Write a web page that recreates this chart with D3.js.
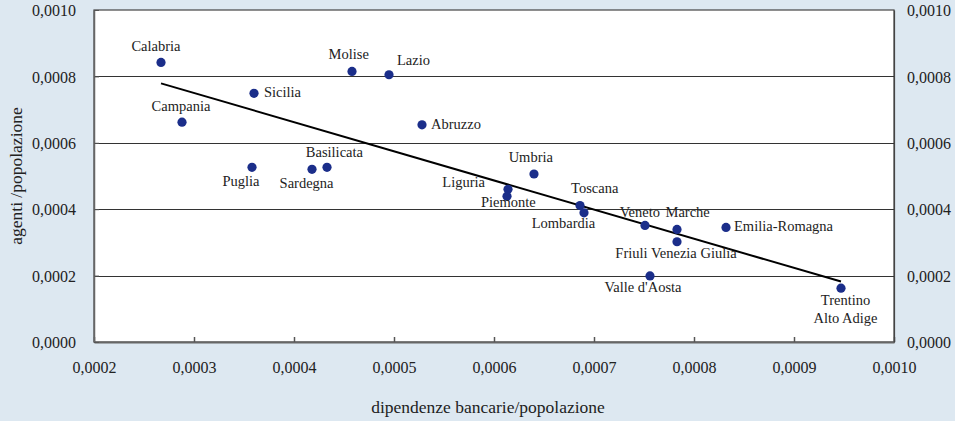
<!DOCTYPE html>
<html>
<head>
<meta charset="utf-8">
<script src="https://cdn.jsdelivr.net/npm/d3@7"></script>
<style>
  html, body { margin: 0; padding: 0; background: #dde8f1; }
  svg { display: block; }
  svg text { font-family: "Liberation Serif", "Times New Roman", Tinos, "DejaVu Serif", serif !important; fill: #222; }
</style>
</head>
<body>
<svg id="chart" width="955" height="421"></svg>
<script>
// ---- data ----
const regions = ["Calabria", "Campania", "Sicilia", "Puglia", "Sardegna", "Basilicata", "Molise", "Lazio",
  "Abruzzo", "Umbria", "Liguria", "Piemonte", "Toscana", "Lombardia", "Veneto", "Marche",
  "Friuli Venezia Giulia", "Emilia-Romagna", "Valle d'Aosta", "Trentino\nAlto Adige"];
const dipendenze = [0.000267, 0.000288, 0.000360, 0.000358, 0.000418, 0.000433, 0.000458, 0.000495,
  0.000528, 0.000640, 0.000614, 0.000613, 0.000686, 0.000690, 0.000751, 0.000783,
  0.000783, 0.000832, 0.000756, 0.000947];
const agenti = [0.000842, 0.000662, 0.000749, 0.000526, 0.000520, 0.000526, 0.000815, 0.000805,
  0.000654, 0.000506, 0.000460, 0.000439, 0.000411, 0.000389, 0.000351, 0.000339,
  0.000302, 0.000345, 0.000199, 0.000162];
const trendX = [0.000267, 0.000947];
const trendY = [0.000779, 0.000182];
const xTicks = [0.0002, 0.0003, 0.0004, 0.0005, 0.0006, 0.0007, 0.0008, 0.0009, 0.0010];
const yTicks = [0.0000, 0.0002, 0.0004, 0.0006, 0.0008, 0.0010];
const xTitle = "dipendenze bancarie/popolazione";
const yTitle = "agenti /popolazione";

// ---- label layout (offsets from point, px) ----
const labelLayout = {
  "Calabria": [-5, -11.6, "middle"],
  "Campania": [-1, -11.6, "middle"],
  "Sicilia": [10, 4, "start"],
  "Puglia": [-11, 18.3, "middle"],
  "Sardegna": [-5.4, 18.4, "middle"],
  "Basilicata": [7.4, -10.6, "middle"],
  "Molise": [-3.3, -12.6, "middle"],
  "Lazio": [8, -9.4, "start"],
  "Abruzzo": [9, 3.7, "start"],
  "Umbria": [-3.2, -12.3, "middle"],
  "Liguria": [-23, -2.3, "end"],
  "Piemonte": [1.4, 10.4, "middle"],
  "Toscana": [14.7, -13, "middle"],
  "Lombardia": [-20.5, 15.6, "middle"],
  "Veneto": [15, -8, "end"],
  "Marche": [-11.5, -12, "start"],
  "Friuli Venezia Giulia": [-1, 16.6, "middle"],
  "Emilia-Romagna": [8, 3.7, "start"],
  "Valle d'Aosta": [-7, 15.7, "middle"],
  "Trentino\nAlto Adige": [4.5, 16.7, "middle"]
};

const FONT = "'Liberation Serif', 'Times New Roman', Tinos, 'DejaVu Serif', serif";
const W = 955, H = 421;
const margin = { top: 10, right: 61, bottom: 79, left: 94 };
const svg = d3.select("#chart");

svg.append("rect").attr("x", 0).attr("y", 0).attr("width", W).attr("height", H).attr("fill", "#dde8f1");

const x = d3.scaleLinear().domain([0.0002, 0.0010]).range([margin.left, W - margin.right]);
const y = d3.scaleLinear().domain([0, 0.0010]).range([H - margin.bottom, margin.top]);

const loc = d3.formatLocale({ decimal: ",", thousands: ".", grouping: [3], currency: ["€", ""] });
const fmt = loc.format(".4f");

// plot area
svg.append("rect")
  .attr("x", x.range()[0]).attr("y", y.range()[1])
  .attr("width", x.range()[1] - x.range()[0])
  .attr("height", y.range()[0] - y.range()[1])
  .attr("fill", "#ffffff").attr("stroke", "#444").attr("stroke-width", 1.2);

// gridlines
svg.append("g").selectAll("line")
  .data(yTicks.filter(d => d > 0 && d < 0.0010))
  .join("line")
  .attr("x1", x.range()[0]).attr("x2", x.range()[1])
  .attr("y1", d => Math.round(y(d)) + 0.5).attr("y2", d => Math.round(y(d)) + 0.5)
  .attr("stroke", "#333").attr("stroke-width", 1);

// bottom axis (ticks inward)
const xAxis = d3.axisBottom(x).tickValues(xTicks).tickFormat(fmt).tickSizeInner(-5).tickSizeOuter(0).tickPadding(20);
const gx = svg.append("g").attr("transform", `translate(0,${y(0)})`).call(xAxis).attr("font-family", FONT);
gx.select(".domain").attr("stroke", "#666").attr("stroke-width", 2.2);
gx.selectAll(".tick line").attr("stroke", "#555").attr("stroke-width", 1.5);
gx.selectAll(".tick text").attr("font-size", "16px").attr("fill", "#333");

// left axis
const yAxisL = d3.axisLeft(y).tickValues(yTicks).tickFormat(fmt).tickSizeInner(-5).tickSizeOuter(0).tickPadding(18);
const gyl = svg.append("g").attr("transform", `translate(${x.range()[0]},0)`).call(yAxisL).attr("font-family", FONT);
gyl.select(".domain").attr("stroke", "#666").attr("stroke-width", 1.5);
gyl.selectAll(".tick line").attr("stroke", "#555");
gyl.selectAll(".tick text").attr("font-size", "16px").attr("fill", "#333").attr("dy", "0.36em");

// right axis (labels only)
const yAxisR = d3.axisRight(y).tickValues(yTicks).tickFormat(fmt).tickSize(0).tickPadding(13);
const gyr = svg.append("g").attr("transform", `translate(${x.range()[1]},0)`).call(yAxisR).attr("font-family", FONT);
gyr.select(".domain").attr("stroke", "#444").attr("stroke-width", 1.2);
gyr.selectAll(".tick text").attr("font-size", "16px").attr("fill", "#333").attr("dy", "0.36em");

// trend line
svg.append("path")
  .datum(trendX.map((d, i) => [d, trendY[i]]))
  .attr("d", d3.line().x(d => x(d[0])).y(d => y(d[1])))
  .attr("fill", "none").attr("stroke", "#000").attr("stroke-width", 2);

// points
const pts = regions.map((r, i) => ({ name: r, x: dipendenze[i], y: agenti[i] }));
svg.append("g").selectAll("circle")
  .data(pts).join("circle")
  .attr("cx", d => x(d.x)).attr("cy", d => y(d.y)).attr("r", 4.6)
  .attr("fill", "#1b2e8a");

// labels
const lg = svg.append("g").attr("font-family", FONT);
pts.forEach(d => {
  const [dx, dy, anchor] = labelLayout[d.name];
  const lines = d.name.split("\n");
  const t = lg.append("text")
    .attr("x", x(d.x) + dx).attr("y", y(d.y) + dy)
    .attr("text-anchor", anchor).attr("font-size", "14.5px").attr("fill", "#222");
  lines.forEach((ln, k) => {
    t.append("tspan").attr("x", x(d.x) + dx).attr("dy", k === 0 ? 0 : 18.3).text(ln);
  });
});

// axis titles
svg.append("text")
  .attr("x", (x.range()[0] + x.range()[1]) / 2 - 6).attr("y", 413)
  .attr("text-anchor", "middle").attr("font-size", "17.5px").attr("fill", "#222")
  .attr("font-family", FONT)
  .text(xTitle);
svg.append("text")
  .attr("transform", `translate(22,${(y.range()[0] + y.range()[1]) / 2}) rotate(-90)`)
  .attr("text-anchor", "middle").attr("font-size", "17.5px").attr("fill", "#222")
  .attr("font-family", FONT)
  .text(yTitle);
</script>
</body>
</html>
